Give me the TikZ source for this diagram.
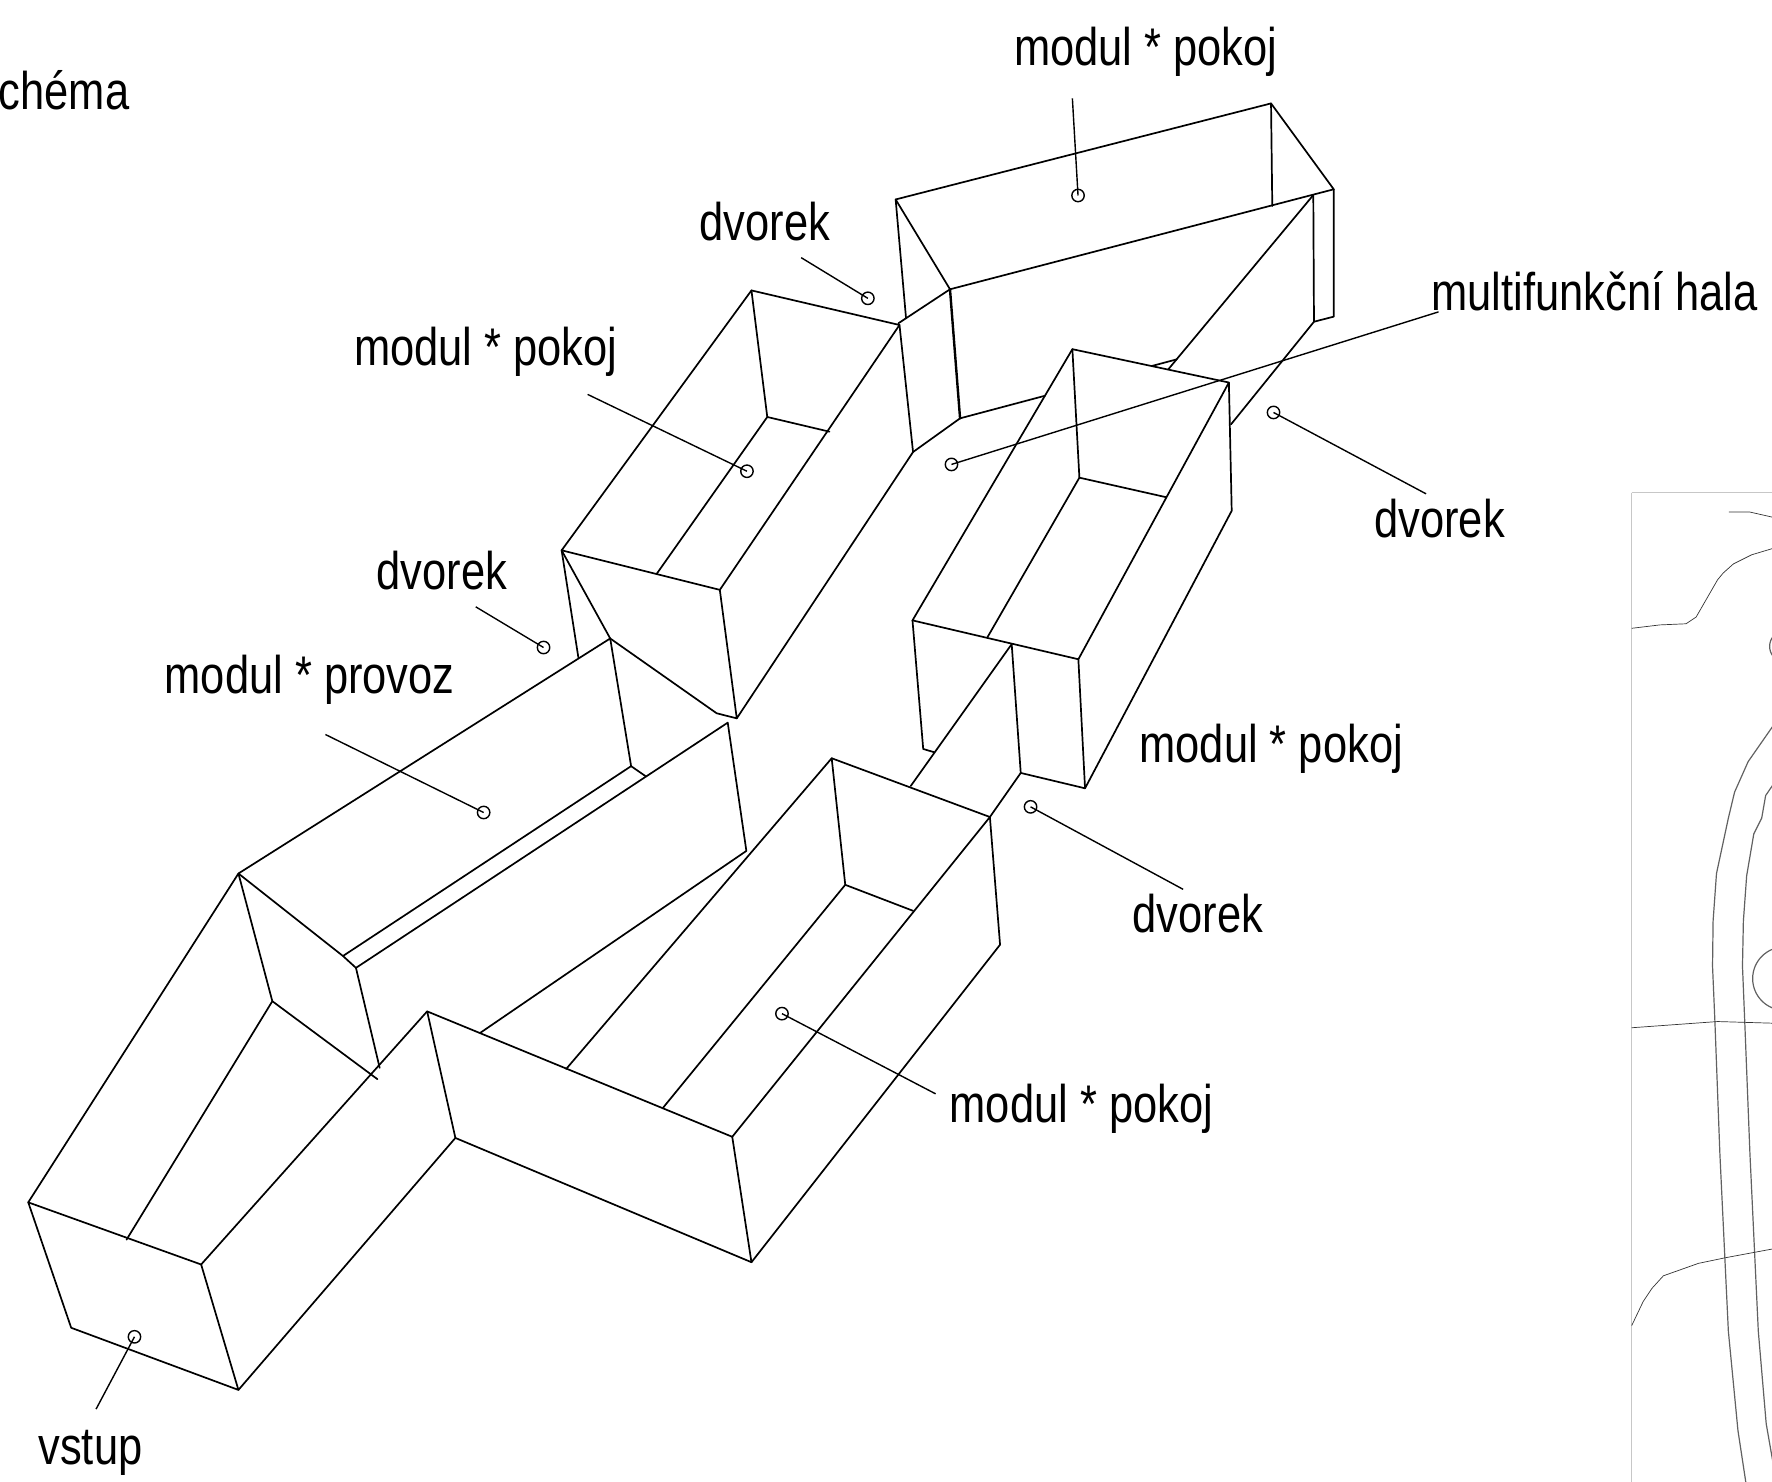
\documentclass[tikz,border=0pt]{standalone}
\usepackage{fontspec}
\setmainfont[FakeStretch=0.82]{Liberation Sans}
\tikzset{
  wall/.style={line width=0.85pt,line join=round,line cap=round,draw=black},
  leader/.style={line width=0.7pt,draw=black},
  mark/.style={},
  pin/.style={circle,draw=black,line width=0.7pt,minimum size=6.2pt,inner sep=0pt},
  lab/.style={font=\fontsize{26.5}{30}\selectfont,inner sep=0pt,text=black},
  mapframe/.style={draw=black!22,line width=0.7pt},
  maproad/.style={draw=black!62,line width=0.6pt,line join=round},
  mapline/.style={draw=black!80,line width=0.35pt,line join=round}
}
\begin{document}
\begin{tikzpicture}[x=0.565pt,y=-0.565pt]
\useasboundingbox (0,0) rectangle (1568.14,1310.62);
\clip (0,0) rectangle (1568.14,1310.62);
% --- map inset
\draw[mapframe] (1444,436) -- (1570,436) (1444,436) -- (1444,1312);
\draw[mapline] (1530,453) -- (1548,453) -- (1570,458);
\draw[mapline] (1444,556) -- (1469,553) -- (1492,552) -- (1501,546) -- (1520,513) -- (1525,507) -- (1534,499) -- (1550,491) -- (1570,485);
\draw[maproad] (1580,572) circle (14);
\draw[maproad] (1570,641) -- (1547,674) -- (1535,701) -- (1529.5,724) -- (1519,773) -- (1516,815) -- (1515.5,855) -- (1517.6,904) -- (1522,1021) -- (1529.5,1178) -- (1538,1266) -- (1545,1312);
\draw[maproad] (1570,693) -- (1562.5,704) -- (1559,724) -- (1552,738) -- (1545.7,775) -- (1542.8,815) -- (1542,855) -- (1544,904) -- (1548.6,1021) -- (1556,1178) -- (1563,1260) -- (1570,1300);
\draw[maproad] (1579,866) circle (28);
\draw[mapline] (1444,909.5) -- (1520,904) -- (1570,905.5);
\draw[mapline] (1444,1173) -- (1454,1152) -- (1462,1140) -- (1472,1129) -- (1503,1118) -- (1527,1113) -- (1570,1105);
% --- entrance and corridor
\coordinate (v1) at (25,1064);
\coordinate (v2) at (178,1119);
\coordinate (v3) at (211,1230);
\coordinate (v4) at (63,1175);
\draw[wall] (v1) -- (v2) -- (v3) -- (v4) -- cycle;
\coordinate (c1) at (211,773);
\coordinate (c2) at (540,565);
\coordinate (c3) at (303.5,846);
\coordinate (c4) at (558.5,678);
\coordinate (c5) at (315,856.5);
\coordinate (c6) at (644,639.5);
\coordinate (c7) at (660.5,753);
\coordinate (c8) at (241,886);
\draw[wall] (v1) -- (c1) -- (c2) -- (c4) -- (c3) -- (c1);
\draw[wall] (c3) -- (c5) -- (c6) -- (c7) -- (425,914);
\draw[wall] (c4) -- (571.5,687);
\draw[wall] (c5) -- (336,945);
\draw[wall] (c1) -- (c8) -- (112,1097);
\draw[wall] (c8) -- (334,955);
\draw[wall] (v2) -- (378,895);
\draw[wall] (v3) -- (403,1007);
% --- lower room
\coordinate (p1) at (378,895);
\coordinate (p2) at (403,1007);
\coordinate (p3) at (665,1117);
\coordinate (p4) at (648,1006);
\coordinate (p5) at (876,723);
\coordinate (p6) at (885,836);
\coordinate (p7) at (736,671);
\coordinate (p8) at (748,783);
\draw[wall] (p1) -- (p2) -- (p3) -- (p4) -- cycle;
\draw[wall] (p4) -- (p5) -- (p6) -- (p3);
\draw[wall] (p5) -- (p7) -- (p8) -- (808,806);
\draw[wall] (p8) -- (587,980);
\draw[wall] (p7) -- (501,946);
\draw[wall] (p5) -- (903.3,684);
\draw[wall] (806,695.5) -- (895.3,570) -- (903.3,684) -- (960.2,697.6);
% --- right middle room
\coordinate (d1) at (949,309);
\coordinate (d2) at (1087.5,338.5);
\coordinate (d3) at (807.5,549);
\coordinate (d4) at (954.3,583.4);
\coordinate (d5) at (955.2,422.7);
\coordinate (d6) at (1090,452);
\coordinate (d7) at (960.2,697.6);
\draw[wall] (d1) -- (d2) -- (d4) -- (d3) -- cycle;
\draw[wall] (d1) -- (d5) -- (1032,440);
\draw[wall] (d5) -- (873.8,564);
\draw[wall] (d2) -- (d6) -- (d7) -- (d4);
\draw[wall] (d3) -- (817,662.8) -- (826.8,665.7);
% --- upper left room
\coordinate (b1) at (665,257);
\coordinate (b2) at (796,287.6);
\coordinate (b3) at (497,487);
\coordinate (b4) at (637,522);
\coordinate (b5) at (652,635.7);
\coordinate (b6) at (808,400);
\coordinate (b7) at (679,369);
\draw[wall] (b1) -- (b2) -- (b4) -- (b3) -- cycle;
\draw[wall] (b1) -- (b7) -- (734,382);
\draw[wall] (b7) -- (581,508);
\draw[wall] (b4) -- (b5) -- (b6);
\draw[wall] (b3) -- (c2) -- (634.2,631.2) -- (b5);
\draw[wall] (b3) -- (511.8,581.7);
% --- top room
\coordinate (a1) at (792.6,176.5);
\coordinate (a2) at (1124.8,91.5);
\coordinate (a3) at (1180.3,167.5);
\coordinate (a4) at (840.7,256);
\coordinate (a5) at (1162.2,172.6);
\coordinate (a6) at (1162.8,284.7);
\coordinate (a7) at (1180.3,280.2);
\coordinate (a8) at (849.6,370.2);
\draw[wall] (a1) -- (a2) -- (a3) -- (a4) -- cycle;
\draw[wall] (a2) -- (1125.9,182.3);
\draw[wall] (a5) -- (a6) -- (a7) -- (a3);
\draw[wall] (a5) -- (1033.9,326.8);
\draw[wall] (a6) -- (1089.4,375.5);
\draw[wall] (a1) -- (801.8,281.7);
\draw[wall] (795,286.1) -- (a4);
\draw[wall] (b2) -- (b6);
\draw[wall,line width=1.2pt] (a4) -- (a8);
\draw[wall] (a8) -- (924.8,350.2);
\draw[wall] (a8) -- (b6);
\draw[wall] (1019.2,323.9) -- (1041.3,318);
% --- labels
\node[lab] (t0) at (47,80) {schéma};
\node[lab] (t1) at (1014,46) {modul * pokoj};
\node[lab] (t2) at (677,196) {dvorek};
\node[lab] (t3) at (430,311) {modul * pokoj};
\node[lab] (t4) at (1411,258) {multifunkční hala};
\node[lab] (t5) at (1274,459) {dvorek};
\node[lab] (t6) at (391,505) {dvorek};
\node[lab] (t7) at (274,602) {modul * provoz};
\node[lab] (t8) at (1125,663) {modul * pokoj};
\node[lab] (t9) at (1060,808) {dvorek};
\node[lab] (t10) at (957,981) {modul * pokoj};
\node[lab] (t11) at (80,1286) {vstup};
% --- leaders
\node[pin] (n1) at (954,173) {};
\node[pin] (n2) at (768,264) {};
\node[pin] (n3) at (661,417) {};
\node[pin] (n4) at (842,411) {};
\node[pin] (n5) at (1127,365) {};
\node[pin] (n6) at (481,573) {};
\node[pin] (n7) at (428,719) {};
\node[pin] (n8) at (912,714) {};
\node[pin] (n9) at (692,897) {};
\node[pin] (n10) at (119,1183) {};
\coordinate (s1) at (949,87);
\coordinate (s2) at (709,228);
\coordinate (s3) at (520,349);
\coordinate (s4) at (1273,276);
\coordinate (s5) at (1262,437);
\coordinate (s6) at (421,537);
\coordinate (s7) at (288,650);
\coordinate (s8) at (1047,787);
\coordinate (s9) at (828,968);
\coordinate (s10) at (85,1247);
\foreach \i in {1,...,10} \draw[leader] (s\i) -- (n\i.center);
\end{tikzpicture}
\end{document}
